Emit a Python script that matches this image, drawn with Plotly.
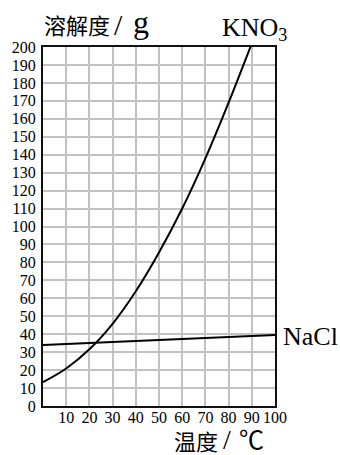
import plotly.graph_objects as go

temps = [0, 10, 20, 30, 40, 50, 60, 70, 80, 90]
kno3 = [13.3, 20.9, 31.6, 45.8, 63.9, 85.5, 110, 138, 169, 202]
nacl_t = [0, 100]
nacl = [34, 39.5]
x_ticks = [10, 20, 30, 40, 50, 60, 70, 80, 90, 100]
y_ticks = list(range(0, 201, 10))

W, H = 340, 455
L, T = 43, 47
pw, ph = 232, 359
R, B = W - L - pw, H - T - ph

def px(x):
    return (x - L) / pw

def py(y):
    return (T + ph - y) / ph

fig = go.Figure()
fig.add_trace(go.Scatter(x=temps, y=kno3, mode="lines",
                         line=dict(color="black", width=2, shape="spline"),
                         showlegend=False))
fig.add_trace(go.Scatter(x=nacl_t, y=nacl, mode="lines",
                         line=dict(color="black", width=2),
                         showlegend=False))

font = "Liberation Serif, Times New Roman, serif"
cjk = "Noto Sans CJK SC, sans-serif"

def label(text, x, y, fam, size):
    return dict(text=text, x=px(x), y=py(y), xref="paper", yref="paper",
                xanchor="left", yanchor="middle", align="left", showarrow=False,
                font=dict(family=fam, size=size, color="black"))

fig.update_layout(
    width=W, height=H,
    margin=dict(l=L, r=R, t=T, b=B, autoexpand=False),
    paper_bgcolor="white", plot_bgcolor="white",
    xaxis=dict(range=[0, 100], tickvals=x_ticks, showgrid=True,
               gridcolor="#c2c2c2", gridwidth=1.8, zeroline=False,
               showline=True, linecolor="#111", linewidth=2, mirror=True,
               ticks="", ticklabelstandoff=-4,
               tickfont=dict(family=font, size=16, color="black"),
               fixedrange=True),
    yaxis=dict(range=[0, 200], tickvals=y_ticks, showgrid=True,
               gridcolor="#c2c2c2", gridwidth=1.8, zeroline=False,
               showline=True, linecolor="#111", linewidth=2, mirror=True,
               ticks="", ticklabelstandoff=2,
               tickfont=dict(family=font, size=16, color="black"),
               fixedrange=True),
    annotations=[
        label("溶解度", 42, 24, cjk, 22),
        label("/", 112, 24, font, 30),
        label("g", 131, 22, font, 32),
        label("KNO<sub>3</sub>", 220, 29, font, 26),
        label("NaCl", 281, 336, font, 26),
        label("温度", 172, 440, cjk, 22),
        label("/", 221, 440, font, 28),
        label("℃", 237, 438, cjk, 25),
    ],
)

fig.write_html("out.html", config={"displayModeBar": False},
               post_script="document.body.style.margin='0';document.body.style.overflow='hidden';")
